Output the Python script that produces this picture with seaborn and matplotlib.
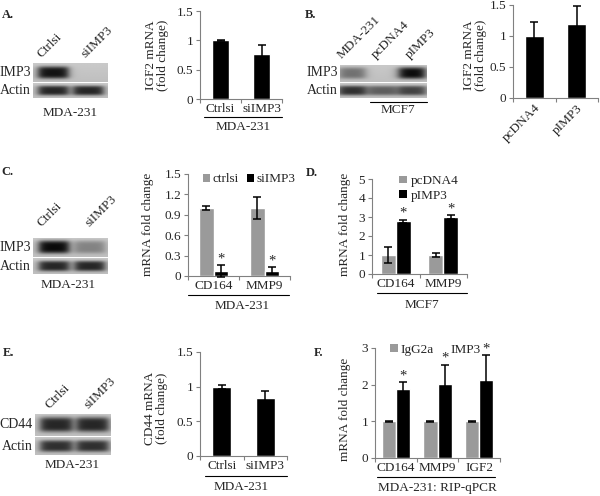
import numpy as np
import pandas as pd
import matplotlib
matplotlib.use("Agg")
import matplotlib.pyplot as plt
from matplotlib.lines import Line2D
from matplotlib.patches import Patch
import seaborn as sns

# ---------------- data ----------------
A_groups = ["Ctrlsi", "siIMP3"]
A_vals = [1.0, 0.76]
A_err = [0.01, 0.16]

B_groups = ["pcDNA4", "pIMP3"]
B_vals = [1.0, 1.2]
B_err = [0.22, 0.28]

C_genes = ["CD164", "MMP9"]
C_series = ["ctrlsi", "siIMP3"]
C_ctrl = [1.0, 1.0]
C_ctrl_err = [0.03, 0.16]
C_si = [0.07, 0.08]
C_si_err = [0.09, 0.05]

D_genes = ["CD164", "MMP9"]
D_series = ["pcDNA4", "pIMP3"]
D_pc = [1.0, 1.0]
D_pc_err = [0.42, 0.13]
D_p = [2.78, 3.0]
D_p_err = [0.07, 0.08]

E_groups = ["Ctrlsi", "siIMP3"]
E_vals = [1.0, 0.84]
E_err = [0.03, 0.10]

F_genes = ["CD164", "MMP9", "IGF2"]
F_series = ["IgG2a", "IMP3"]
F_igg = [1.0, 1.0, 1.0]
F_igg_err = [0.01, 0.01, 0.01]
F_imp = [1.87, 2.02, 2.13]
F_imp_err = [0.20, 0.52, 0.67]

# western blot band intensities (0 = none, 1 = strongest)
A_lanes = ["Ctrlsi", "siIMP3"]
A_IMP3 = [0.95, 0.0]
A_Actin = [0.85, 0.85]
B_lanes = ["MDA-231", "pcDNA4", "pIMP3"]
B_IMP3 = [0.45, 0.0, 1.0]
B_Actin = [0.80, 0.55, 0.70]
C_lanes = ["Ctrlsi", "siIMP3"]
C_IMP3 = [1.0, 0.35]
C_Actin = [0.85, 0.85]
E_lanes = ["Ctrlsi", "siIMP3"]
E_CD44 = [0.85, 0.85]
E_Actin = [0.80, 0.80]

GRAY = "#9a9a9a"
BLACK = "#000000"
FS = 9.5

# ---------------- setup ----------------
sns.set_style("ticks")
plt.rcParams["font.family"] = ["Liberation Serif", "DejaVu Serif"]
plt.rcParams["font.size"] = FS

W, H = 600, 496
fig = plt.figure(figsize=(6, 4.96), dpi=100)


def box(x0, y0, x1, y1):
    return [x0 / W, 1 - y1 / H, (x1 - x0) / W, (y1 - y0) / H]


def ftext(x, y, s, **kw):
    kw.setdefault("ha", "center")
    kw.setdefault("va", "center")
    kw.setdefault("fontsize", FS)
    fig.text(x / W, 1 - y / H, s, **kw)


def hline(x0, x1, y, color="k", lw=0.8):
    fig.add_artist(Line2D([x0 / W, x1 / W], [1 - y / H, 1 - y / H],
                          transform=fig.transFigure, color=color, lw=lw))


def style_bar(ax, yticks, ylabels, ncat):
    ax.set_ylim(yticks[0], yticks[-1])
    ax.set_yticks(yticks)
    ax.set_yticklabels(ylabels)
    ax.set_xlim(-0.5, ncat - 0.5)
    sns.despine(ax=ax)
    for s in ["left", "bottom"]:
        ax.spines[s].set_color("#808080")
        ax.spines[s].set_linewidth(0.8)
    ax.tick_params(axis="y", length=3, width=0.8, color="#808080", pad=2, labelsize=FS)
    ax.tick_params(axis="x", which="major", length=0, pad=3, labelsize=FS)
    ax.set_xticks(np.arange(-0.5, ncat), minor=True)
    ax.tick_params(axis="x", which="minor", length=3, width=0.8, color="#808080")
    ax.set_xlabel("")
    ax.set_ylabel("")


def add_err(ax, container, vals, errs, star=False):
    xs = [b.get_x() + b.get_width() / 2 for b in container]
    ax.errorbar(xs, vals, yerr=errs, fmt="none", ecolor="k", elinewidth=1.1,
                capsize=3, capthick=1.1, clip_on=False, zorder=5)
    if star:
        for x, v, e in zip(xs, vals, errs):
            ax.text(x, v + e, "*", ha="center", va="bottom", fontsize=10.5)


def single_bar(rect, groups, vals, errs, width, yticks, ylabels):
    ax = fig.add_axes(box(*rect))
    df = pd.DataFrame({"group": groups, "value": vals})
    sns.barplot(data=df, x="group", y="value", color=BLACK, saturation=1,
                width=width, errorbar=None, ax=ax)
    add_err(ax, ax.containers[0], vals, errs)
    style_bar(ax, yticks, ylabels, len(groups))
    return ax


def hue_bar(rect, genes, series, v1, e1, v2, e2, width, yticks, ylabels, star=True):
    ax = fig.add_axes(box(*rect))
    df = pd.DataFrame({
        "gene": genes + genes,
        "series": [series[0]] * len(genes) + [series[1]] * len(genes),
        "value": list(v1) + list(v2),
    })
    sns.barplot(data=df, x="gene", y="value", hue="series", hue_order=series,
                palette=[GRAY, BLACK], saturation=1, width=width, errorbar=None,
                legend=False, ax=ax)
    add_err(ax, ax.containers[0], v1, e1)
    add_err(ax, ax.containers[1], v2, e2, star=star)
    style_bar(ax, yticks, ylabels, len(genes))
    return ax


def blot(rect, intens, centers, halfw=0.2, bg=0.79, dark=0.06):
    ax = fig.add_axes(box(*rect))
    nx, ny = 200, 40
    x = np.linspace(0, 1, nx)
    y = np.linspace(0, 1, ny)
    img = np.full((ny, nx), bg) - 0.04 * y[:, None]
    py = np.exp(-((y - 0.5) / 0.33) ** 4)
    for inten, c in zip(intens, centers):
        px = 1 / (1 + np.exp(-(x - (c - halfw)) / 0.03)) * \
             1 / (1 + np.exp((x - (c + halfw)) / 0.03))
        img -= (bg - dark) * inten * np.outer(py, px)
    ax.imshow(img, cmap="gray", vmin=0, vmax=1, aspect="auto",
              interpolation="bilinear")
    ax.set_axis_off()
    return ax


def lane_labels(xs, y, labels, fs=9.5):
    for x, lab in zip(xs, labels):
        fig.text(x / W, 1 - y / H, lab, rotation=45, ha="left", va="bottom",
                 rotation_mode="anchor", fontsize=fs)


PL = dict(fontweight="bold", fontsize=9)

# ---------------- Panel A ----------------
ftext(8, 15, "A.", **PL)
blot((33, 63, 108, 82), A_IMP3, [0.27, 0.74])
blot((33, 83, 108, 98), A_Actin, [0.27, 0.74])
ftext(31, 72, "IMP3", ha="right", fontsize=10)
ftext(31, 90.5, "Actin", ha="right", fontsize=10)
lane_labels([44, 88], 60, A_lanes)
ftext(70, 113, "MDA-231")

axA = single_bar((200, 11, 282, 99), A_groups, A_vals, A_err, 0.42,
                 [0, 0.5, 1, 1.5], ["0", "0.5", "1", "1.5"])
ftext(157, 55, "IGF2 mRNA\n(fold change)", rotation=90, linespacing=0.95)
hline(204, 282, 117)
ftext(243, 127, "MDA-231")

# ---------------- Panel B ----------------
ftext(310, 15, "B.", **PL)
blot((340, 65, 427, 82), B_IMP3, [0.14, 0.49, 0.83], halfw=0.15)
blot((340, 83, 427, 98), B_Actin, [0.14, 0.49, 0.83], halfw=0.16)
ftext(338, 73, "IMP3", ha="right", fontsize=10)
ftext(338, 90.5, "Actin", ha="right", fontsize=10)
lane_labels([344, 378, 412], 61, B_lanes)
hline(370, 427, 102)
ftext(398, 110, "MCF7")

axB = single_bar((513, 5, 598, 98), B_groups, B_vals, B_err, 0.44,
                 [0, 0.5, 1, 1.5], ["0", "0.5", "1", "1.5"])
axB.set_xticks(range(len(B_groups)))
axB.set_xticklabels(B_groups, rotation=45, ha="right", rotation_mode="anchor")
ftext(475, 55, "IGF2 mRNA\n(fold change)", rotation=90, linespacing=0.95)

# ---------------- Panel C ----------------
ftext(7, 172, "C.", **PL)
blot((33, 238, 108, 257), C_IMP3, [0.28, 0.76])
blot((33, 258, 108, 274), C_Actin, [0.28, 0.76])
ftext(31, 247, "IMP3", ha="right", fontsize=10)
ftext(31, 266, "Actin", ha="right", fontsize=10)
lane_labels([44, 92], 229, C_lanes)
ftext(68, 285, "MDA-231")

axC = hue_bar((188, 174, 290, 276), C_genes, C_series, C_ctrl, C_ctrl_err,
              C_si, C_si_err, 0.56, [0, 0.3, 0.6, 0.9, 1.2, 1.5],
              ["0", "0.3", "0.6", "0.9", "1.2", "1.5"])
axC.legend(handles=[Patch(facecolor=GRAY, edgecolor="none"),
                    Patch(facecolor=BLACK, edgecolor="none")],
           labels=C_series, ncol=2, frameon=False, loc="upper left",
           bbox_to_anchor=(0.08, 1.07), handlelength=0.55, handleheight=0.55,
           handletextpad=0.2, columnspacing=0.6, borderpad=0, fontsize=FS)
ftext(148, 224, "mRNA fold change", rotation=90)
hline(188, 289, 295)
ftext(242, 306, "MDA-231")

# ---------------- Panel D ----------------
ftext(312, 173, "D.", **PL)
axD = hue_bar((372, 179, 467, 274), D_genes, D_series, D_pc, D_pc_err,
              D_p, D_p_err, 0.63, [0, 1, 2, 3, 4, 5],
              ["0", "1", "2", "3", "4", "5"])
axD.legend(handles=[Patch(facecolor=GRAY, edgecolor="none"),
                    Patch(facecolor=BLACK, edgecolor="none")],
           labels=D_series, ncol=1, frameon=False, loc="upper left",
           bbox_to_anchor=(0.22, 1.11), handlelength=0.55, handleheight=0.55,
           handletextpad=0.3, labelspacing=0.2, borderpad=0, fontsize=FS)
ftext(345, 224, "mRNA fold change", rotation=90)
hline(377, 467, 293)
ftext(422, 305, "MCF7")

# ---------------- Panel E ----------------
ftext(8, 353, "E.", **PL)
blot((35, 414, 110, 436), E_CD44, [0.28, 0.76], halfw=0.21)
blot((35, 437, 110, 455), E_Actin, [0.28, 0.76], halfw=0.21)
ftext(33, 425, "CD44", ha="right", fontsize=10)
ftext(33, 446, "Actin", ha="right", fontsize=10)
lane_labels([52, 91], 411, E_lanes)
ftext(72, 465, "MDA-231")

axE = single_bar((200, 352, 287, 456), E_groups, E_vals, E_err, 0.44,
                 [0, 0.5, 1, 1.5], ["0", "0.5", "1", "1.5"])
ftext(156, 408, "CD44 mRNA\n(fold change)", rotation=90, linespacing=0.95)
hline(205, 287, 476)
ftext(241, 487, "MDA-231")

# ---------------- Panel F ----------------
ftext(319, 353, "F.", **PL)
axF = hue_bar((375, 348, 500, 458), F_genes, F_series, F_igg, F_igg_err,
              F_imp, F_imp_err, 0.68, [0, 1, 2, 3], ["0", "1", "2", "3"])
axF.legend(handles=[Patch(facecolor=GRAY, edgecolor="none"),
                    Patch(facecolor="none", edgecolor="none")],
           labels=F_series, ncol=2, frameon=False, loc="upper left",
           bbox_to_anchor=(0.07, 1.10), handlelength=0.55, handleheight=0.55,
           handletextpad=0.2, columnspacing=0.5, borderpad=0, fontsize=FS)
ftext(345, 409, "mRNA fold change", rotation=90)
hline(377, 495, 477)
ftext(437, 488, "MDA-231: RIP-qPCR")

fig.savefig("out.png", dpi=100)
